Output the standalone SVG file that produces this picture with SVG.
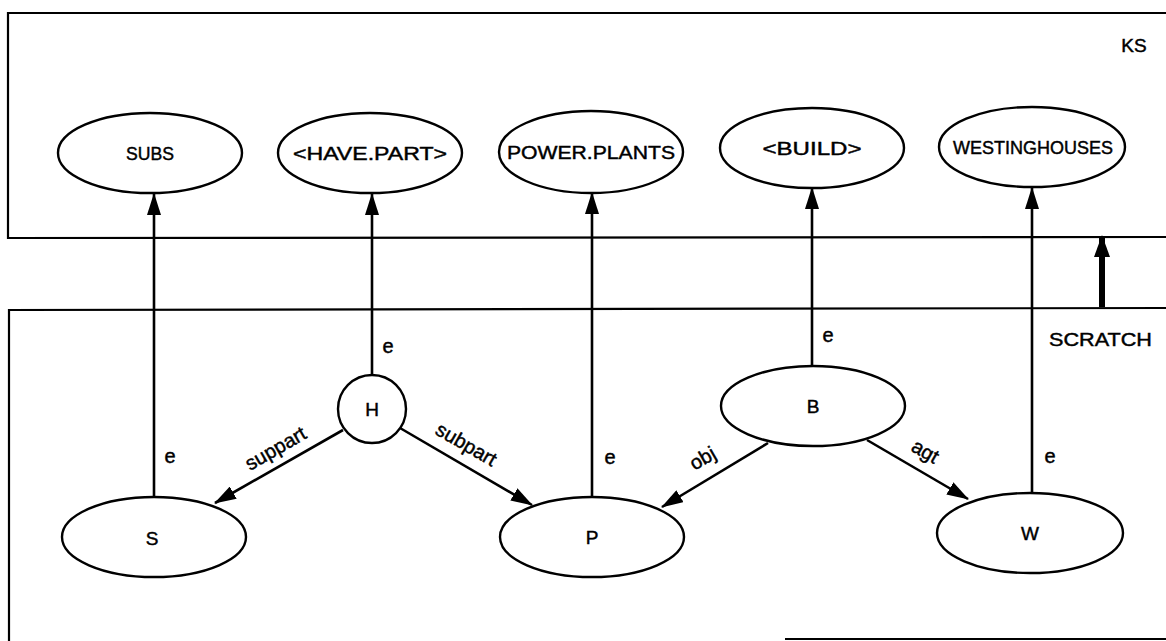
<svg xmlns="http://www.w3.org/2000/svg" width="1166" height="641" viewBox="0 0 1166 641">
<defs>
<style>
.frame{fill:none;stroke:#000;stroke-width:2.2}
.node{fill:#fff;stroke:#000;stroke-width:2.4}
.edge{fill:none;stroke:#000;stroke-width:2.6}
text{font-family:"Liberation Sans",Arial,sans-serif;fill:#000;stroke:#000;stroke-width:0.45}
.nl{font-size:19px;text-anchor:middle}
.el{font-size:20px;text-anchor:middle}
</style>
<marker id="ah" markerUnits="userSpaceOnUse" viewBox="0 0 22 14" refX="21" refY="7" markerWidth="22" markerHeight="14" orient="auto">
<path d="M0,0 L22,7 L0,14 Z" fill="#000"/>
</marker>
<marker id="ahb" markerUnits="userSpaceOnUse" viewBox="0 0 22 16" refX="21" refY="8" markerWidth="22" markerHeight="16" orient="auto">
<path d="M0,0 L22,8 L0,16 Z" fill="#000"/>
</marker>
</defs>
<rect width="1166" height="641" fill="#fff"/>
<g id="frames">
<path class="frame" d="M1166,13 L8,13 L8,238 L1166,237"/>
<path class="frame" d="M1166,308 L9,310 L9,641"/>
<path class="frame" d="M785,639 L1166,639"/>
<text x="1134" y="52" font-size="19" text-anchor="middle">KS</text>
<text x="1049" y="346" font-size="19" textLength="103" lengthAdjust="spacingAndGlyphs">SCRATCH</text>
</g>
<g id="connectors">
<line class="edge" x1="154" y1="497" x2="154" y2="194" marker-end="url(#ah)"/>
<line class="edge" x1="372" y1="375" x2="372" y2="194" marker-end="url(#ah)"/>
<line class="edge" x1="592" y1="497" x2="592" y2="193" marker-end="url(#ah)"/>
<line class="edge" x1="812" y1="366" x2="812" y2="188" marker-end="url(#ah)"/>
<line class="edge" x1="1032" y1="493" x2="1032" y2="188" marker-end="url(#ah)"/>
<line x1="1102" y1="307" x2="1102" y2="236" stroke="#000" stroke-width="6" marker-end="url(#ahb)"/>
<line class="edge" x1="343" y1="430" x2="215" y2="503" marker-end="url(#ah)"/>
<line class="edge" x1="400" y1="428" x2="532" y2="505" marker-end="url(#ah)"/>
<line class="edge" x1="768" y1="443" x2="662" y2="507" marker-end="url(#ah)"/>
<line class="edge" x1="867" y1="440" x2="968" y2="499" marker-end="url(#ah)"/>
<text class="el" x="170" y="463">e</text>
<text class="el" x="388" y="353">e</text>
<text class="el" x="610" y="464">e</text>
<text class="el" x="828" y="342">e</text>
<text class="el" x="1050" y="463">e</text>
<text class="el" transform="translate(276,449) rotate(-30)" y="6">suppart</text>
<text class="el" transform="translate(466,445) rotate(30)" y="6">subpart</text>
<text class="el" transform="translate(703,459) rotate(-30)" y="6">obj</text>
<text class="el" transform="translate(925,452) rotate(30)" y="6">agt</text>
</g>
<g id="n-subs"><ellipse class="node" cx="150" cy="153" rx="92" ry="40"/><text class="nl" x="150" y="160" textLength="48" lengthAdjust="spacingAndGlyphs">SUBS</text></g>
<g id="n-havepart"><ellipse class="node" cx="370" cy="153" rx="92" ry="40"/><text class="nl" x="370" y="160" textLength="154" lengthAdjust="spacingAndGlyphs">&lt;HAVE.PART&gt;</text></g>
<g id="n-powerplants"><ellipse class="node" cx="591" cy="152" rx="92" ry="41"/><text class="nl" x="591" y="159" textLength="168" lengthAdjust="spacingAndGlyphs">POWER.PLANTS</text></g>
<g id="n-build"><ellipse class="node" cx="812" cy="148" rx="92" ry="40"/><text class="nl" x="812" y="155" textLength="99" lengthAdjust="spacingAndGlyphs">&lt;BUILD&gt;</text></g>
<g id="n-westinghouses"><ellipse class="node" cx="1032" cy="147" rx="93" ry="40"/><text class="nl" x="1033" y="154" textLength="160" lengthAdjust="spacingAndGlyphs">WESTINGHOUSES</text></g>
<g id="n-h"><circle class="node" cx="372" cy="409" r="34"/><text class="nl" x="372" y="416">H</text></g>
<g id="n-s"><ellipse class="node" cx="154" cy="537" rx="92" ry="40"/><text class="nl" x="152" y="545">S</text></g>
<g id="n-p"><ellipse class="node" cx="592" cy="537" rx="92" ry="40"/><text class="nl" x="592" y="544">P</text></g>
<g id="n-b"><ellipse class="node" cx="813" cy="406" rx="92" ry="40"/><text class="nl" x="813" y="413">B</text></g>
<g id="n-w"><ellipse class="node" cx="1030" cy="533" rx="93" ry="40"/><text class="nl" x="1030" y="540">W</text></g>
</svg>
